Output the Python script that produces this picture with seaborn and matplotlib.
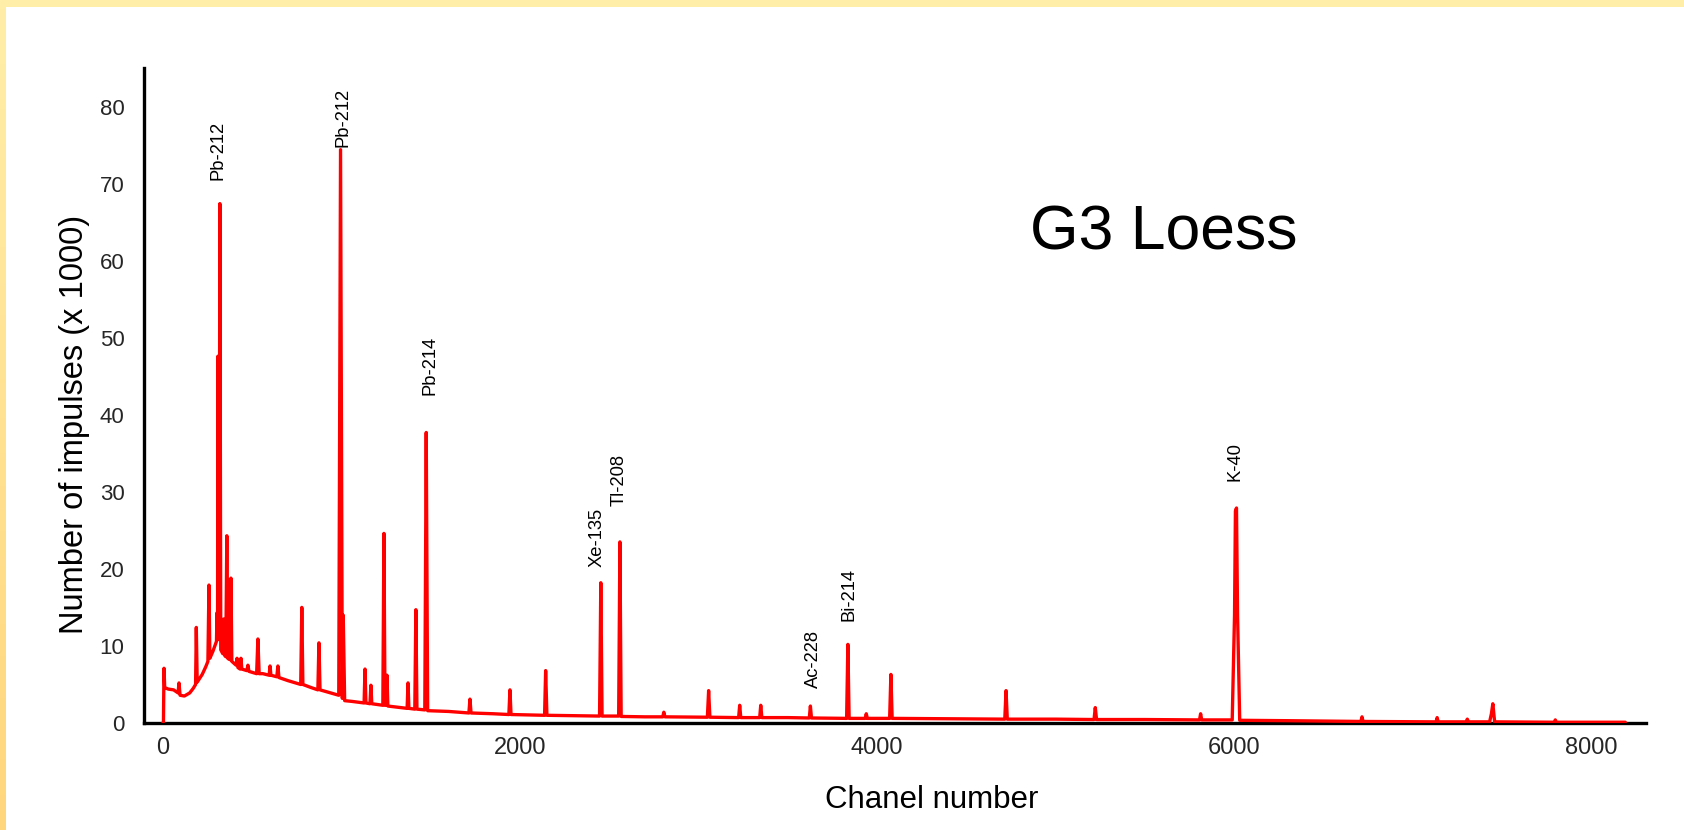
import numpy as np
import matplotlib
matplotlib.use("Agg")
import matplotlib.pyplot as plt
from matplotlib import font_manager
from matplotlib.colors import LinearSegmentedColormap
import seaborn as sns

# Gamma spectrum of the G3 loess sample: channel number vs. counts (thousands)
channel = [
    0, 3, 6, 10, 30, 60, 85, 90, 96, 120, 150, 170, 183, 187, 192, 220, 240,
    252, 258, 263, 280, 295, 300, 303, 306, 308, 312, 315, 319, 324, 335, 340,
    345, 352, 358, 363, 368, 373, 377, 381, 386, 410, 415, 420, 432, 437, 442,
    470, 476, 482, 525, 532, 539, 560, 595, 600, 605, 638, 644, 650, 700, 772,
    778, 784, 830, 868, 874, 880, 940, 985, 995, 1005, 1010, 1018, 1060, 1127,
    1132, 1137, 1160, 1165, 1170, 1232, 1238, 1244, 1250, 1255, 1260, 1368,
    1373, 1378, 1411, 1417, 1423, 1467, 1475, 1483, 1600, 1714, 1720, 1726,
    1850, 1938, 1944, 1950, 2138, 2144, 2151, 2300, 2446, 2453, 2460, 2553,
    2560, 2567, 2700, 2800, 2806, 2812, 3050, 3057, 3064, 3225, 3231, 3237,
    3343, 3349, 3355, 3500, 3621, 3627, 3633, 3830, 3837, 3844, 3934, 3940,
    3946, 4071, 4078, 4085, 4400, 4716, 4723, 4730, 5000, 5216, 5223, 5230,
    5500, 5807, 5813, 5819, 5990, 6003, 6008, 6014, 6020, 6032, 6300, 6711,
    6717, 6723, 7132, 7138, 7144, 7300, 7307, 7314, 7432, 7442, 7450, 7460,
    7794, 7800, 7806, 8000, 8192,
]
counts = [
    0.0, 0.2, 7.1, 4.6, 4.4, 4.3, 3.9, 5.2, 3.6, 3.5, 3.9, 4.5, 5.0, 12.4,
    5.3, 6.3, 7.3, 8.0, 17.9, 8.4, 9.3, 10.3, 10.6, 14.3, 10.8, 47.6, 10.9,
    11.0, 67.4, 9.5, 9.0, 13.5, 8.8, 8.6, 24.3, 8.4, 8.3, 18.6, 8.2, 18.8,
    8.0, 7.5, 8.4, 7.2, 7.0, 8.4, 7.0, 6.8, 7.5, 6.7, 6.4, 10.9, 6.4, 6.4,
    6.2, 7.4, 6.2, 6.0, 7.4, 5.9, 5.5, 5.0, 15.0, 5.0, 4.6, 4.3, 10.4, 4.3,
    3.9, 3.6, 74.4, 3.2, 14.0, 2.9, 2.8, 2.6, 7.0, 2.6, 2.5, 4.9, 2.5, 2.3,
    24.6, 2.3, 2.3, 6.2, 2.2, 1.9, 5.2, 1.9, 1.8, 14.7, 1.8, 1.7, 37.7, 1.6,
    1.5, 1.3, 3.1, 1.3, 1.2, 1.1, 4.3, 1.1, 1.0, 6.8, 1.0, 0.95, 0.9, 18.2,
    0.9, 0.9, 23.5, 0.85, 0.8, 0.8, 1.4, 0.8, 0.75, 4.2, 0.75, 0.7, 2.3, 0.7,
    0.7, 2.3, 0.7, 0.7, 0.65, 2.2, 0.65, 0.6, 10.2, 0.6, 0.6, 1.2, 0.6, 0.6,
    6.3, 0.6, 0.55, 0.5, 4.2, 0.5, 0.5, 0.45, 2.0, 0.45, 0.45, 0.4, 1.2, 0.4,
    0.4, 14.0, 27.5, 27.9, 14.0, 0.35, 0.3, 0.2, 0.8, 0.2, 0.15, 0.7, 0.15,
    0.15, 0.5, 0.15, 0.15, 1.2, 2.5, 0.15, 0.1, 0.4, 0.1, 0.1, 0.1,
]

# Nuclide annotations (bottom of each rotated label)
peak_names = ["Pb-212", "Pb-212", "Pb-214", "Xe-135", "Tl-208", "Ac-228", "Bi-214", "K-40"]
label_channel = [308, 1006, 1494, 2432, 2553, 3642, 3846, 6007]
label_base = [70.5, 74.8, 42.6, 20.3, 28.2, 4.5, 13.3, 31.4]

x_major = [0, 2000, 4000, 6000, 8000]
y_major = [0, 10, 20, 30, 40, 50, 60, 70, 80]

sns.set_theme(style="white")
plt.rcParams["font.family"] = ["Liberation Sans", "DejaVu Sans"]

W, H = 1684, 830
fig = plt.figure(figsize=(W / 100, H / 100), dpi=100, facecolor="white")

# pale yellow frame: top strip and a shaded strip down the left edge
top = fig.add_axes([0, 1 - 7 / H, 1, 7 / H])
top.set_axis_off()
top.add_patch(plt.Rectangle((0, 0), 1, 1, color="#FFEEA8", transform=top.transAxes))
left = fig.add_axes([0, 0, 6 / W, 1 - 7 / H])
cmap = LinearSegmentedColormap.from_list("band", ["#FFD67C", "#FFEEA8"])
left.imshow(np.linspace(0, 1, 256).reshape(-1, 1), aspect="auto", cmap=cmap, origin="lower")
left.set_axis_off()

ax = fig.add_axes([144 / W, 1 - 723 / H, (1646 - 144) / W, (723 - 68) / H])
sns.lineplot(x=channel, y=counts, color="#FF0000", linewidth=2.4, estimator=None,
             sort=False, ax=ax, zorder=3)

ax.set_xlim(-106, 8308)
ax.set_ylim(0, 85)
ax.set_xticks(x_major)
ax.set_xticks(range(1000, 8001, 2000), minor=True)
ax.set_yticks(y_major)
ax.set_yticks(range(5, 85, 10), minor=True)
ax.tick_params(axis="both", which="both", direction="in", color="black", width=2.2)
ax.tick_params(axis="both", which="major", length=8)
ax.tick_params(axis="both", which="minor", length=4.5)
ax.tick_params(axis="y", which="major", pad=14, labelsize=16)
ax.tick_params(axis="x", which="major", pad=10, labelsize=17)

for side in ("top", "right"):
    ax.spines[side].set_visible(False)
for side in ("left", "bottom"):
    ax.spines[side].set_color("black")
    ax.spines[side].set_linewidth(2.4)
ax.set_facecolor("white")
ax.grid(False)

for name, cx, cy in zip(peak_names, label_channel, label_base):
    ax.text(cx, cy, name, rotation=90, ha="center", va="bottom", fontsize=13.2,
            color="black")

fig.text(75 / W, 0.489, "Number of impulses (x 1000)", rotation=90, ha="center",
         va="center", fontsize=23.5, color="black")
fig.text(932 / W, 1 - 800 / H, "Chanel number", ha="center", va="center",
         fontsize=22.5, color="black")
fig.text(1164 / W, 1 - 250 / H, "G3 Loess", ha="center", va="baseline",
         fontsize=45, color="black")

fig.savefig("out.png", dpi=100, facecolor="white")
